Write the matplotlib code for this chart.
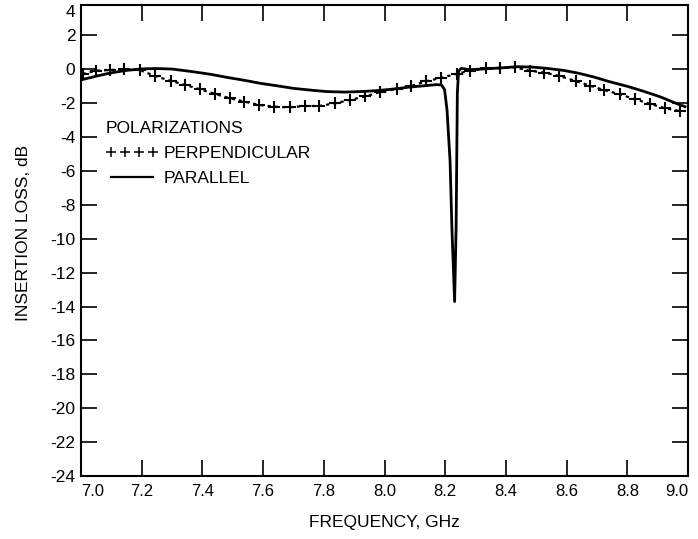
import matplotlib
matplotlib.use("Agg")
import matplotlib.pyplot as plt
from matplotlib.lines import Line2D

plt.rcParams["font.family"] = ["Liberation Sans", "DejaVu Sans"]
plt.rcParams["axes.unicode_minus"] = False

# parallel polarization (solid line), GHz / dB
par_freq = [7.00, 7.05, 7.10, 7.15, 7.20, 7.25, 7.30, 7.37, 7.43, 7.48, 7.54,
            7.59, 7.65, 7.70, 7.76, 7.81, 7.87, 7.92, 7.97, 8.02, 8.08, 8.135,
            8.17, 8.188, 8.198, 8.206, 8.216, 8.222, 8.231, 8.236, 8.240, 8.244,
            8.253, 8.28, 8.35, 8.40, 8.44, 8.49, 8.53, 8.59, 8.64, 8.69, 8.74,
            8.80, 8.855, 8.91, 8.96, 8.99]
par_loss = [-0.62, -0.40, -0.20, -0.06, 0.03, 0.05, 0.02, -0.14, -0.30, -0.47,
            -0.65, -0.82, -0.98, -1.12, -1.23, -1.31, -1.34, -1.31, -1.26, -1.18,
            -1.05, -0.96, -0.90, -0.92, -1.20, -2.40, -5.40, -9.30, -13.70, -9.30,
            -1.40, -0.10, 0.06, -0.02, 0.05, 0.11, 0.16, 0.13, 0.07, -0.06, -0.23,
            -0.45, -0.72, -1.00, -1.30, -1.63, -2.00, -2.20]

# perpendicular polarization (dotted line with + marks)
perp_freq = [7.005, 7.049, 7.096, 7.142, 7.194, 7.243, 7.295, 7.344, 7.393,
             7.442, 7.491, 7.538, 7.587, 7.636, 7.687, 7.739, 7.785, 7.838,
             7.887, 7.936, 7.985, 8.040, 8.088, 8.137, 8.187, 8.238, 8.282,
             8.333, 8.380, 8.429, 8.478, 8.527, 8.576, 8.630, 8.677, 8.723,
             8.775, 8.827, 8.876, 8.925, 8.974]
perp_loss = [-0.27, -0.08, -0.04, 0.00, -0.04, -0.39, -0.67, -0.92, -1.18,
             -1.45, -1.71, -1.90, -2.10, -2.20, -2.24, -2.16, -2.16, -2.00,
             -1.80, -1.60, -1.34, -1.15, -0.98, -0.70, -0.50, -0.26, -0.08,
             0.06, 0.06, 0.12, -0.08, -0.19, -0.39, -0.69, -0.96, -1.22,
             -1.47, -1.77, -2.04, -2.30, -2.46]

x_ticks = [7.0, 7.2, 7.4, 7.6, 7.8, 8.0, 8.2, 8.4, 8.6, 8.8, 9.0]
y_ticks = [-24, -22, -20, -18, -16, -14, -12, -10, -8, -6, -4, -2, 0, 2]

fig = plt.figure(figsize=(6.98, 5.39), dpi=100)
ax = fig.add_axes([81 / 698, 1 - 476 / 539, 607 / 698, 471 / 539])

ax.plot(perp_freq, perp_loss, color="black", linewidth=1.6,
        linestyle=(0, (1.5, 1.8)), marker="+", markersize=8.5,
        markeredgewidth=1.5)
ax.plot(par_freq, par_loss, color="black", linewidth=2.0,
        solid_joinstyle="round")

ax.set_xlim(7.0, 8.99)
ax.set_ylim(-24, 3.8)

ax.set_xticks(x_ticks)
ax.set_xticklabels([f"{v:.1f}" for v in x_ticks])
ytop = ax.get_ylim()[1]
ax.set_yticks(y_ticks + [ytop])
ax.set_yticklabels([str(v) for v in y_ticks] + ["4"])

ax.tick_params(direction="in", length=11.5, width=1.2, top=True, right=True,
               labelsize=12.5, color="black")
ax.tick_params(axis="x", labelsize=12, pad=6)
ax.tick_params(axis="y", pad=4)
xl = ax.get_xticklabels()
xl[0].set_ha("left")
xl[-1].set_ha("right")
yl = ax.get_yticklabels()
yl[-1].set_va("top")

for sp in ax.spines.values():
    sp.set_linewidth(1.5)

ax.set_xlabel("FREQUENCY, GHz", fontsize=12.5)
ax.xaxis.set_label_coords(0.5, -0.083)
ax.set_ylabel("INSERTION LOSS, dB", fontsize=12.5)
ax.yaxis.set_label_coords(-0.083, 0.515)

h_perp = Line2D([], [], color="black", linestyle="none", marker="+",
                markersize=6.5, markeredgewidth=1.1)
h_par = Line2D([], [], color="black", linewidth=1.6)
leg = ax.legend([h_perp, h_par], ["PERPENDICULAR", "PARALLEL"],
                title="POLARIZATIONS", loc="upper left",
                bbox_to_anchor=(0.041, 0.753), frameon=False, numpoints=4,
                handlelength=3.0, handletextpad=0.35, labelspacing=0.55,
                borderaxespad=0, borderpad=0, fontsize=12.5,
                title_fontsize=12.5, alignment="left")

fig.savefig("out.png", dpi=100)
